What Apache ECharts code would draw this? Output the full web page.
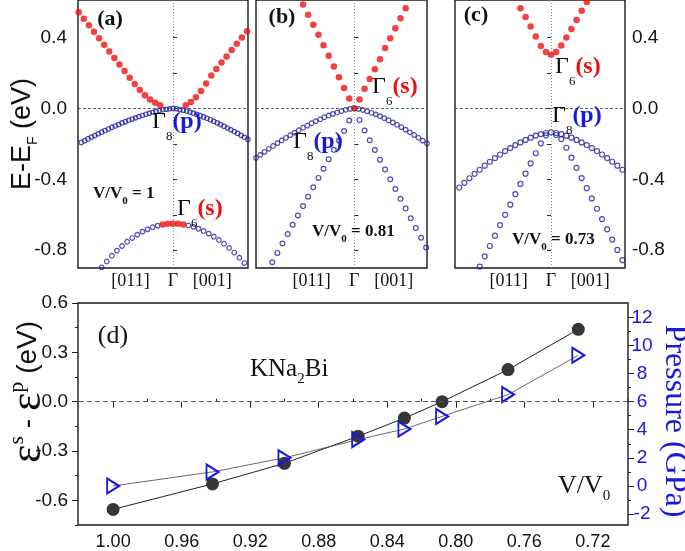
<!DOCTYPE html>
<html><head><meta charset="utf-8">
<script src="https://cdn.jsdelivr.net/npm/echarts@6/dist/echarts.min.js"></script>
<style>html,body{margin:0;padding:0;background:#fff}#c{width:685px;height:551px}</style>
</head><body><div id="c"></div>
<script>
// ================= DATA =================
// k-path tick labels (top panels)
const kLabelPos = [-0.25, 0, 0.23];
const kLabelText = ['[011]', 'Γ', '[001]'];
// energy axis ticks / labels (eV)
const eTicks = [-0.8, -0.6, -0.4, -0.2, 0, 0.2, 0.4];
const eLabels = [-0.8, -0.4, 0, 0.4];

// ---- panel (a) V/V0 = 1 ----
const aHH_k0 = -0.56, aHH_dk = 0.02;   // Γ8 (p) band
const aHH = [-0.203,-0.192,-0.182,-0.172,-0.162,-0.153,-0.143,-0.134,-0.125,-0.116,-0.107,-0.099,-0.091,-0.082,-0.075,-0.067,-0.060,-0.053,-0.046,-0.040,-0.033,-0.028,-0.022,-0.017,-0.012,-0.008,-0.005,-0.002,0,
  -0.002,-0.006,-0.010,-0.015,-0.021,-0.027,-0.034,-0.041,-0.048,-0.056,-0.064,-0.073,-0.082,-0.091,-0.101,-0.111,-0.121,-0.131,-0.141,-0.152,-0.163,-0.175];
const aCB_k0 = -0.555, aCB_dk = 0.03;  // conduction band (s-like, red)
const aCB = [0.542,0.505,0.468,0.432,0.395,0.358,0.321,0.284,0.247,0.210,0.173,0.137,0.103,0.074,0.050,0.032,0.018,null,null,null,null,
  0.018,0.036,0.063,0.098,0.140,0.185,0.222,0.258,0.293,0.329,0.364,0.400,0.435];
const aLow_k0 = -0.42, aLow_dk = 0.03; // lower band, Γ6 (s) at Γ
const aLowP = [-0.897,-0.863,-0.831,-0.802,-0.776,-0.752,-0.731,-0.712,-0.695,-0.682,-0.670,-0.661,null,null,null,null,null,
  -0.660,-0.668,-0.678,-0.691,-0.706,-0.723,-0.742,-0.763,-0.787,-0.813,-0.842,-0.872];
const aLowS = [null,null,null,null,null,null,null,null,null,null,null,null,-0.655,-0.651,-0.650,-0.651,-0.655];

// ---- panel (b) V/V0 = 0.81 ----
const bHH_k0 = -0.575, bHH_dk = 0.025;
const bHH = [-0.279,-0.262,-0.245,-0.228,-0.212,-0.196,-0.181,-0.166,-0.151,-0.137,-0.123,-0.109,-0.097,-0.084,-0.072,-0.061,-0.050,-0.040,-0.031,-0.023,-0.015,-0.008,-0.003,0,
  -0.003,-0.009,-0.016,-0.025,-0.034,-0.044,-0.055,-0.067,-0.079,-0.092,-0.106,-0.120,-0.135,-0.150,-0.166,-0.182,-0.198];
const bLH_k0 = -0.51, bLH_dk = 0.03;
const bLH = [-0.92,-0.868,-0.815,-0.762,-0.709,-0.656,-0.604,-0.551,-0.498,-0.445,-0.392,-0.340,-0.287,-0.234,-0.181,-0.128,-0.068,null,
  -0.065,-0.125,-0.18,-0.235,-0.29,-0.345,-0.40,-0.455,-0.51,-0.565,-0.62,-0.675,-0.73,-0.785];
const bS_k0 = -0.33, bS_dk = 0.03;
const bS = [0.64,0.585,0.528,0.472,0.415,0.356,0.297,0.236,0.175,0.115,0.055,0.0,0.05,0.11,0.165,0.22,0.277,0.34,0.396,0.452,0.508,0.565,0.62];

// ---- panel (c) V/V0 = 0.73 ----
const cHH_k0 = -0.54, cHH_dk = 0.03;
const cHH = [-0.446,-0.420,-0.394,-0.369,-0.346,-0.323,-0.301,-0.280,-0.260,-0.241,-0.224,-0.207,-0.192,-0.178,-0.165,-0.154,-0.145,-0.139,-0.135,
  -0.139,-0.145,-0.154,-0.165,-0.178,-0.192,-0.207,-0.224,-0.241,-0.260,-0.280,-0.301,-0.323,-0.346];
const cLH_k0 = -0.42, cLH_dk = 0.03;
const cLH = [-0.892,-0.834,-0.776,-0.718,-0.658,-0.600,-0.543,-0.484,-0.426,-0.368,-0.310,-0.253,-0.197,-0.152,null,
  -0.15,-0.173,-0.222,-0.278,-0.335,-0.393,-0.45,-0.508,-0.566,-0.624,-0.682,-0.74,-0.798,-0.856];
const cS_k0 = -0.18, cS_dk = 0.03;
const cS = [0.565,0.515,0.462,0.405,0.352,0.318,0.302,0.318,0.355,0.40,0.448,0.498,0.55,0.60];

// ---- panel (d) ----
const vRatio = [1.00, 0.942, 0.90, 0.857, 0.83, 0.808, 0.7695, 0.7285];
const gapSP = [-0.655, -0.50, -0.375, -0.21, -0.10, 0.00, 0.195, 0.44];
const pressure = [0.0, 1.0, 2.0, 3.3, 4.05, 4.95, 6.5, 9.3];
const dXLabels = [1.00, 0.96, 0.92, 0.88, 0.84, 0.80, 0.76, 0.72];
const dXMinor = [0.98, 0.94, 0.90, 0.86, 0.82, 0.78, 0.74, 0.70];
const dYLabels = [-0.6, -0.3, 0, 0.3, 0.6];
const dYMinor = [-0.75, -0.45, -0.15, 0.15, 0.45];
const pLabels = [-2, 0, 2, 4, 6, 8, 10, 12];
const pMinor = [-1, 1, 3, 5, 7, 9, 11];

// ================= BUILD =================
const mk = (k0, dk, arr) => arr.map((e, i) => e === null ? null : [+(k0 + dk * i).toFixed(4), e]).filter(Boolean);
const BLUE_C = '#1f1f9e', RED = '#f01010', PBLUE = '#1818e0';
const serif = 'Liberation Serif', sans = 'Liberation Sans';

function topX(gi, min, max) {
  return { type: 'value', gridIndex: gi, min, max, axisLine: { show: false }, axisTick: { show: false }, splitLine: { show: false },
    axisLabel: { customValues: kLabelPos, formatter: v => { const i = kLabelPos.findIndex(p => Math.abs(p - v) < 1e-6); return i < 0 ? '' : kLabelText[i]; },
      fontFamily: serif, fontSize: 18, color: '#111', margin: 4 } };
}
function topY(gi, side, showLabels) {
  return { type: 'value', gridIndex: gi, min: -0.9, max: 0.611, position: side, axisLine: { show: false }, splitLine: { show: false },
    axisTick: { show: true, inside: true, length: 4, customValues: eTicks, lineStyle: { color: '#222', width: 1 } },
    axisLabel: { show: showLabels, customValues: eLabels, formatter: v => v.toFixed(1), fontFamily: sans, fontSize: 19, color: '#111', margin: side === 'left' ? 11 : 7 } };
}
function ringSeries(xi, pts, size, extra) {
  return Object.assign({ type: 'scatter', xAxisIndex: xi, yAxisIndex: xi, data: pts, symbol: 'circle', symbolSize: size,
    itemStyle: { color: 'rgba(255,255,255,0)', borderColor: BLUE_C, borderWidth: 1.2 }, silent: true, z: 3 }, extra || {});
}
function dotSeries(xi, pts, size) {
  return { type: 'scatter', xAxisIndex: xi, yAxisIndex: xi, data: pts, symbol: 'circle', symbolSize: size,
    itemStyle: { color: RED }, silent: true, z: 4 };
}
function guides() {
  return { silent: true, symbol: 'none', label: { show: false }, animation: false,
    data: [ { yAxis: 0, lineStyle: { color: '#444', type: [3, 2], width: 0.8 } },
            { xAxis: 0, lineStyle: { color: '#777', type: [1, 2], width: 0.8 } } ] };
}

const grids = [
  { left: 78, top: -2, width: 170, height: 270 },
  { left: 256, top: -2, width: 171, height: 270 },
  { left: 455, top: -2, width: 170, height: 270 },
  { left: 78, top: 303, width: 550, height: 222 }
].map(g => Object.assign(g, { show: true, borderColor: '#1a1a1a', borderWidth: 1.4, backgroundColor: 'transparent' }));

const xAxes = [ topX(0, -0.559, 0.441), topX(1, -0.575, 0.425), topX(2, -0.565, 0.435),
  { type: 'value', gridIndex: 3, min: 0.6995, max: 1.0205, inverse: true, axisLine: { show: false }, splitLine: { show: false },
    axisTick: { length: 6, customValues: dXLabels, lineStyle: { color: '#222' } },
    axisLabel: { customValues: dXLabels, formatter: v => v.toFixed(2), fontFamily: sans, fontSize: 18, color: '#111', margin: 8 } },
  { type: 'value', gridIndex: 3, min: 0.6995, max: 1.0205, inverse: true, axisLine: { show: false }, splitLine: { show: false },
    axisTick: { length: 3, customValues: dXMinor, lineStyle: { color: '#222' } }, axisLabel: { show: false } } ];

const yAxes = [ topY(0, 'left', true), topY(1, 'left', false), topY(2, 'right', true),
  { type: 'value', gridIndex: 3, min: -0.75, max: 0.6, position: 'left', axisLine: { show: false }, splitLine: { show: false },
    axisTick: { length: 6, customValues: dYLabels, lineStyle: { color: '#222' } },
    axisLabel: { customValues: dYLabels, formatter: v => v.toFixed(1), fontFamily: sans, fontSize: 19, color: '#111', margin: 10 } },
  { type: 'value', gridIndex: 3, min: -0.75, max: 0.6, position: 'left', axisLine: { show: false }, splitLine: { show: false },
    axisTick: { length: 3, customValues: dYMinor, lineStyle: { color: '#222' } }, axisLabel: { show: false } },
  { type: 'value', gridIndex: 3, min: -2.78, max: 13.02, position: 'right', axisLine: { show: false }, splitLine: { show: false },
    axisTick: { length: 6, customValues: pLabels, lineStyle: { color: '#222' } },
    axisLabel: { customValues: pLabels, formatter: v => String(v), fontFamily: sans, fontSize: 19, color: PBLUE, margin: 14, align: 'center' } },
  { type: 'value', gridIndex: 3, min: -2.78, max: 13.02, position: 'right', axisLine: { show: false }, splitLine: { show: false },
    axisTick: { length: 3, customValues: pMinor, lineStyle: { color: '#222' } }, axisLabel: { show: false } } ];

const series = [
  ringSeries(0, mk(aHH_k0, aHH_dk, aHH), 4.4, { markLine: guides() }),
  ringSeries(0, mk(aLow_k0, aLow_dk, aLowP), 4.6),
  dotSeries(0, mk(aCB_k0, aCB_dk, aCB), 6.5),
  dotSeries(0, mk(aLow_k0, aLow_dk, aLowS), 6.5),
  ringSeries(1, mk(bHH_k0, bHH_dk, bHH), 4.6, { markLine: guides() }),
  ringSeries(1, mk(bLH_k0, bLH_dk, bLH), 4.8),
  dotSeries(1, mk(bS_k0, bS_dk, bS), 6.5),
  ringSeries(2, mk(cHH_k0, cHH_dk, cHH), 5, { markLine: guides() }),
  ringSeries(2, mk(cLH_k0, cLH_dk, cLH), 5),
  dotSeries(2, mk(cS_k0, cS_dk, cS), 6.5),
  { type: 'line', xAxisIndex: 3, yAxisIndex: 3, data: vRatio.map((v, i) => [v, gapSP[i]]), symbol: 'circle', symbolSize: 13,
    itemStyle: { color: '#363636' }, lineStyle: { color: '#222', width: 1 }, z: 3,
    markLine: { silent: true, symbol: 'none', label: { show: false }, data: [{ yAxis: 0 }], lineStyle: { color: '#555', type: [5, 3], width: 1 } } },
  { type: 'line', xAxisIndex: 3, yAxisIndex: 5, data: vRatio.map((v, i) => [v, pressure[i]]), symbol: 'path://M0,0 L10,6 L0,12 Z', symbolSize: [12, 15],
    itemStyle: { color: 'rgba(255,255,255,0)', borderColor: PBLUE, borderWidth: 2 }, lineStyle: { color: '#444', width: 0.8 }, z: 4 }
];

// ---------- annotations ----------
function gammaLbl(x, y, sub, tag, color) {
  return { type: 'text', x, y, z: 20, style: { text: `{g|Γ}{s|${sub}}{t|(${tag})}`, align: 'left', verticalAlign: 'middle',
    rich: { g: { fontFamily: serif, fontSize: 24, fill: '#111', lineHeight: 42, verticalAlign: 'middle' },
            s: { fontFamily: serif, fontSize: 13, fill: '#111', lineHeight: 13, verticalAlign: 'bottom' },
            t: { fontFamily: serif, fontWeight: 'bold', fontSize: 24, fill: color, lineHeight: 42, verticalAlign: 'middle' } } } };
}
function vLbl(x, y, val) {
  return { type: 'text', x, y, z: 20, style: { text: `{m|V/V}{s|0}{m| = ${val}}`, align: 'left', verticalAlign: 'middle',
    rich: { m: { fontFamily: serif, fontWeight: 'bold', fontSize: 17, fill: '#111', lineHeight: 26, verticalAlign: 'middle' },
            s: { fontFamily: serif, fontWeight: 'bold', fontSize: 11, fill: '#111', lineHeight: 10, verticalAlign: 'bottom' } } } };
}
function plain(x, y, text, font, opts) {
  return Object.assign({ type: 'text', x, y, z: 20, style: Object.assign({ text, font, fill: '#111', align: 'center', verticalAlign: 'middle' }, opts || {}) });
}

const graphics = [
  plain(110, 19, '(a)', `bold 22px "${serif}"`),
  plain(282, 17, '(b)', `bold 22px "${serif}"`),
  plain(476, 15, '(c)', `bold 22px "${serif}"`),
  gammaLbl(152, 122, '8', 'p', PBLUE),
  gammaLbl(177, 209, '6', 's', RED),
  gammaLbl(372, 87, '6', 's', RED),
  gammaLbl(293, 142, '8', 'p', PBLUE),
  gammaLbl(555, 67, '6', 's', RED),
  gammaLbl(552, 116, '8', 'p', PBLUE),
  vLbl(93, 194, '1'),
  vLbl(312, 232, '0.81'),
  vLbl(512, 240, '0.73'),
  // axis titles
  { type: 'text', x: 23, y: 134, rotation: Math.PI / 2, z: 20, style: { text: '{m|E-E}{s|F}{m| (eV)}', align: 'center', verticalAlign: 'middle',
    rich: { m: { fontFamily: sans, fontSize: 27, fill: '#111', lineHeight: 34, verticalAlign: 'middle' },
            s: { fontFamily: sans, fontSize: 14, fill: '#111', lineHeight: 14, verticalAlign: 'bottom' } } } },
  { type: 'text', x: 28, y: 392, rotation: Math.PI / 2, z: 20, style: { text: '{e|ε}{u|s}{m| - }{e|ε}{u|p}{m| (eV)}', align: 'center', verticalAlign: 'middle',
    rich: { e: { fontFamily: serif, fontSize: 44, fill: '#111', lineHeight: 44, verticalAlign: 'middle' },
            u: { fontFamily: serif, fontSize: 22, fill: '#111', lineHeight: 20, verticalAlign: 'top' },
            m: { fontFamily: sans, fontSize: 28, fill: '#111', lineHeight: 44, verticalAlign: 'middle' } } } },
  { type: 'text', x: 674, y: 421, rotation: -Math.PI / 2, z: 20, style: { text: 'Pressure (GPa)', font: `32px "${serif}"`, fill: PBLUE, align: 'center', verticalAlign: 'middle' } },
  // panel (d) texts
  plain(113, 336, '(d)', `26px "${serif}"`),
  { type: 'text', x: 250, y: 369, z: 20, style: { text: '{m|KNa}{s|2}{m|Bi}', align: 'left', verticalAlign: 'middle',
    rich: { m: { fontFamily: serif, fontSize: 25, fill: '#111', lineHeight: 35, verticalAlign: 'middle' },
            s: { fontFamily: serif, fontSize: 15, fill: '#111', lineHeight: 15, verticalAlign: 'bottom' } } } },
  { type: 'text', x: 558, y: 486, z: 20, style: { text: '{m|V/V}{s|0}', align: 'left', verticalAlign: 'middle',
    rich: { m: { fontFamily: serif, fontSize: 26, fill: '#111', lineHeight: 36, verticalAlign: 'middle' },
            s: { fontFamily: serif, fontSize: 15, fill: '#111', lineHeight: 15, verticalAlign: 'bottom' } } } }
];

const chart = echarts.init(document.getElementById('c'), null, { renderer: 'canvas' });
chart.setOption({ animation: false, backgroundColor: '#fff', grid: grids, xAxis: xAxes, yAxis: yAxes, series, graphic: graphics });
</script></body></html>
